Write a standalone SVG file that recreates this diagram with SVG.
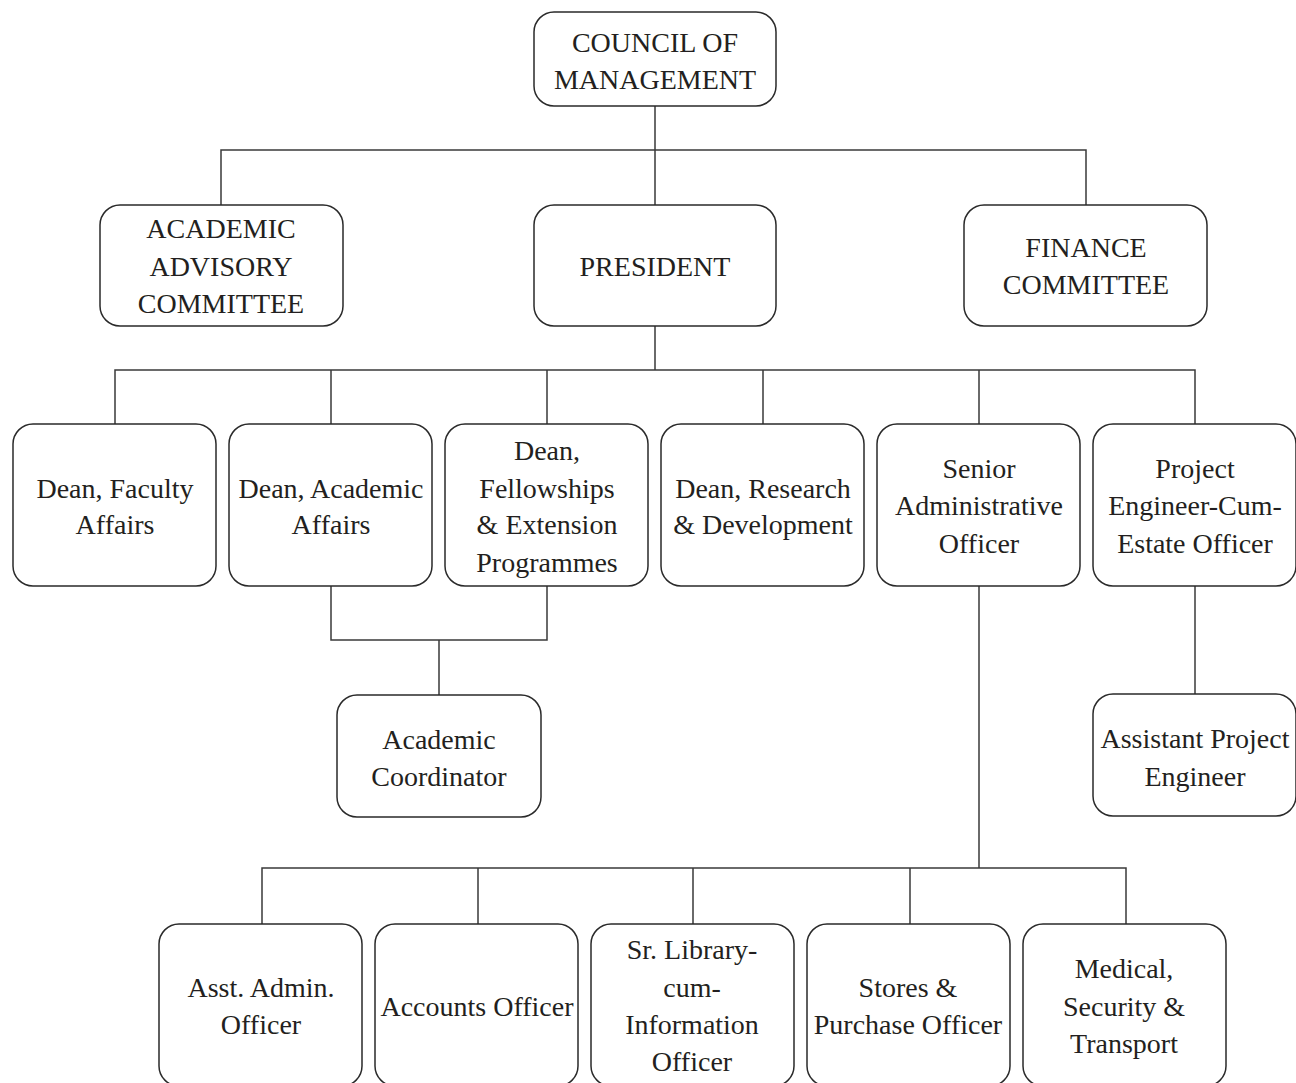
<svg xmlns="http://www.w3.org/2000/svg" width="1296" height="1083" viewBox="0 0 1296 1083">
<style>
.box{fill:#fff;stroke:#2a2a2a;stroke-width:1.5}
.t{font-family:"Liberation Serif","Times New Roman",serif;font-size:28px;fill:#231f20;text-anchor:middle}
.c{fill:none;stroke:#3a3a3a;stroke-width:1.5}
</style>
<rect width="1296" height="1083" fill="#fff"/>
<g id="connectors" class="c">
<path d="M655 106V150M221 205V150H1086V205M655 150V205"/>
<path d="M655 326V370M115 424V370H1195V424M331 370V424M547 370V424M763 370V424M979 370V424"/>
<path d="M331 586V640H547V586M439 640V695"/>
<path d="M1195 586V694"/>
<path d="M979 586V868M262 924V868H1126V924M478 868V924M693 868V924M910 868V924"/>
</g>
<g id="council"><rect class="box" x="534" y="12" width="242" height="94" rx="20"/><text class="t"><tspan x="655" y="52">COUNCIL OF</tspan><tspan x="655" y="89">MANAGEMENT</tspan></text></g>
<g id="academic-advisory"><rect class="box" x="100" y="205" width="243" height="121" rx="20"/><text class="t"><tspan x="221" y="238">ACADEMIC</tspan><tspan x="221" y="276">ADVISORY</tspan><tspan x="221" y="313">COMMITTEE</tspan></text></g>
<g id="president"><rect class="box" x="534" y="205" width="242" height="121" rx="20"/><text class="t" x="655" y="276">PRESIDENT</text></g>
<g id="finance"><rect class="box" x="964" y="205" width="243" height="121" rx="20"/><text class="t"><tspan x="1086" y="257">FINANCE</tspan><tspan x="1086" y="294">COMMITTEE</tspan></text></g>
<g id="dean-faculty"><rect class="box" x="13" y="424" width="203" height="162" rx="20"/><text class="t"><tspan x="115" y="498">Dean, Faculty</tspan><tspan x="115" y="534">Affairs</tspan></text></g>
<g id="dean-academic"><rect class="box" x="229" y="424" width="203" height="162" rx="20"/><text class="t"><tspan x="331" y="498">Dean, Academic</tspan><tspan x="331" y="534">Affairs</tspan></text></g>
<g id="dean-fellowships"><rect class="box" x="445" y="424" width="203" height="162" rx="20"/><text class="t"><tspan x="547" y="460">Dean,</tspan><tspan x="547" y="498">Fellowships</tspan><tspan x="547" y="534">&amp; Extension</tspan><tspan x="547" y="572">Programmes</tspan></text></g>
<g id="dean-research"><rect class="box" x="661" y="424" width="203" height="162" rx="20"/><text class="t"><tspan x="763" y="498">Dean, Research</tspan><tspan x="763" y="534">&amp; Development</tspan></text></g>
<g id="senior-admin"><rect class="box" x="877" y="424" width="203" height="162" rx="20"/><text class="t"><tspan x="979" y="478">Senior</tspan><tspan x="979" y="515">Administrative</tspan><tspan x="979" y="553">Officer</tspan></text></g>
<g id="project-engineer"><rect class="box" x="1093" y="424" width="203" height="162" rx="20"/><text class="t"><tspan x="1195" y="478">Project</tspan><tspan x="1195" y="515">Engineer-Cum-</tspan><tspan x="1195" y="553">Estate Officer</tspan></text></g>
<g id="academic-coordinator"><rect class="box" x="337" y="695" width="204" height="122" rx="20"/><text class="t"><tspan x="439" y="749">Academic</tspan><tspan x="439" y="786">Coordinator</tspan></text></g>
<g id="assistant-project-engineer"><rect class="box" x="1093" y="694" width="203" height="122" rx="20"/><text class="t"><tspan x="1195" y="748">Assistant Project</tspan><tspan x="1195" y="786">Engineer</tspan></text></g>
<g id="asst-admin"><rect class="box" x="159" y="924" width="203" height="162" rx="20"/><text class="t"><tspan x="261" y="997">Asst. Admin.</tspan><tspan x="261" y="1034">Officer</tspan></text></g>
<g id="accounts"><rect class="box" x="375" y="924" width="203" height="162" rx="20"/><text class="t" x="477" y="1016">Accounts Officer</text></g>
<g id="library"><rect class="box" x="591" y="924" width="203" height="162" rx="20"/><text class="t"><tspan x="692" y="959">Sr. Library-</tspan><tspan x="692" y="997">cum-</tspan><tspan x="692" y="1034">Information</tspan><tspan x="692" y="1071">Officer</tspan></text></g>
<g id="stores"><rect class="box" x="807" y="924" width="203" height="162" rx="20"/><text class="t"><tspan x="908" y="997">Stores &amp;</tspan><tspan x="908" y="1034">Purchase Officer</tspan></text></g>
<g id="medical"><rect class="box" x="1023" y="924" width="203" height="162" rx="20"/><text class="t"><tspan x="1124" y="978">Medical,</tspan><tspan x="1124" y="1016">Security &amp;</tspan><tspan x="1124" y="1053">Transport</tspan></text></g>
</svg>
